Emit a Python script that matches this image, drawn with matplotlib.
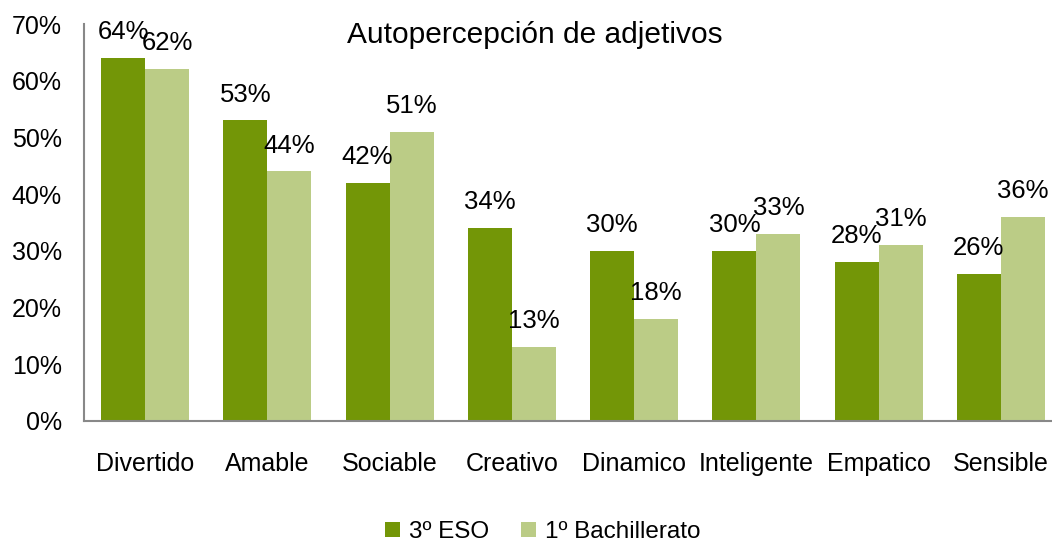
import matplotlib
matplotlib.use("Agg")
import matplotlib.pyplot as plt
import numpy as np

categories = ["Divertido", "Amable", "Sociable", "Creativo", "Dinamico", "Inteligente", "Empatico", "Sensible"]
eso = [64, 53, 42, 34, 30, 30, 28, 26]
bach = [62, 44, 51, 13, 18, 33, 31, 36]
series_names = ["3º ESO", "1º Bachillerato"]
yticks = [0, 10, 20, 30, 40, 50, 60, 70]

plt.rcParams['font.family'] = ['Liberation Sans', 'DejaVu Sans']

fig = plt.figure(figsize=(10.52, 5.44), dpi=100)
ax = fig.add_axes([84/1052, 1-421/544, (1062-84)/1052, (421-24)/544])

x = np.arange(len(categories))
w = 0.36
dark = "#739607"
light = "#BBCC86"
b1 = ax.bar(x - w/2, eso, w, color=dark, label=series_names[0])
b2 = ax.bar(x + w/2, bach, w, color=light, label=series_names[1])

for bars, vals in ((b1, eso), (b2, bach)):
    for r, v in zip(bars, vals):
        ax.annotate(f"{v}%", (r.get_x() + r.get_width()/2, v), xytext=(0, 10),
                    textcoords="offset points", ha="center", va="bottom", fontsize=18.5)

ax.set_xlim(-0.5, len(categories) - 0.5)
ax.set_ylim(0, 70)
ax.set_yticks(yticks)
ax.set_yticklabels([f"{t}%" for t in yticks], fontsize=18)
ax.set_xticks(x)
ax.set_xticklabels(categories, fontsize=18)
ax.tick_params(axis='y', length=0, pad=16)
ax.tick_params(axis='x', length=0, pad=22)
for s in ("top", "right"):
    ax.spines[s].set_visible(False)
for s in ("left", "bottom"):
    ax.spines[s].set_color("#888888")
    ax.spines[s].set_linewidth(1.5)

fig.text(535/1052, 1-35/544, "Autopercepción de adjetivos", ha="center", va="center", fontsize=21.5)

fig.legend(handles=[b1, b2], labels=series_names, loc="center", bbox_to_anchor=(543/1052, 1-532/544),
           ncol=2, frameon=False, fontsize=17.5, handlelength=0.6, handleheight=0.6,
           handletextpad=0.4, columnspacing=1.3)

fig.savefig("out.png", dpi=100)
